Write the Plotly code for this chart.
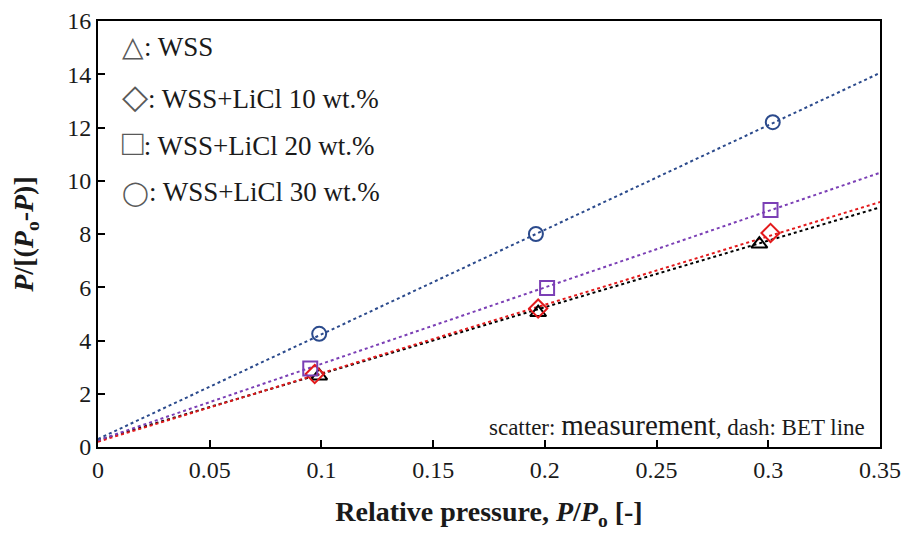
import plotly.graph_objects as go

# Measured data (relative pressure, P/[(Po-P)])
series_names = ["WSS", "WSS+LiCl 10 wt.%", "WSS+LiCl 20 wt.%", "WSS+LiCl 30 wt.%"]
x_wss = [0.099, 0.197, 0.296]
y_wss = [2.67, 5.05, 7.62]
x_10 = [0.097, 0.197, 0.301]
y_10 = [2.74, 5.2, 8.04]
x_20 = [0.095, 0.201, 0.301]
y_20 = [2.95, 5.97, 8.9]
x_30 = [0.099, 0.196, 0.302]
y_30 = [4.25, 8.0, 12.2]

# BET fit lines (end points)
line_x = [0.0, 0.35]
line_wss = [0.25, 9.0]
line_10 = [0.2, 9.2]
line_20 = [0.25, 10.3]
line_30 = [0.3, 14.05]

x_ticks = [0, 0.05, 0.1, 0.15, 0.2, 0.25, 0.3, 0.35]
x_tick_labels = ["0", "0.05", "0.1", "0.15", "0.2", "0.25", "0.3", "0.35"]
y_ticks = [0, 2, 4, 6, 8, 10, 12, 14, 16]

colors = ["#000000", "#E31A1C", "#7B3FB5", "#2B4A8C"]
symbols = ["triangle-up-open", "diamond-open", "square-open", "circle-open"]
xs = [x_wss, x_10, x_20, x_30]
ys = [y_wss, y_10, y_20, y_30]
lines = [line_wss, line_10, line_20, line_30]

FONT = "Liberation Serif"
TXT = "#1a1a1a"

fig = go.Figure()
for i in range(4):
    fig.add_trace(go.Scatter(x=line_x, y=lines[i], mode="lines",
                             line=dict(color=colors[i], width=2, dash="dot"),
                             showlegend=False, hoverinfo="skip"))
for i in range(4):
    fig.add_trace(go.Scatter(x=xs[i], y=ys[i], mode="markers", name=series_names[i],
                             marker=dict(symbol=symbols[i], size=14, color=colors[i],
                                         line=dict(width=2, color=colors[i])),
                             showlegend=False))

legend_syms = ["△", "◇", "□", "◯"]
legend_sym_sizes = [28, 34, 36, 24]
legend_y = [0.939, 0.822, 0.713, 0.599]
for s, ss, n, yy in zip(legend_syms, legend_sym_sizes, series_names, legend_y):
    fig.add_annotation(xref="paper", yref="paper", x=0.028, y=yy, xanchor="left", yanchor="middle",
                       text=f"<span style='color:#595959;font-size:{ss}px'>{s}</span>: {n}",
                       showarrow=False, font=dict(family=FONT, size=27, color=TXT))

fig.add_annotation(xref="paper", yref="paper", x=0.984, y=0.052, xanchor="right", yanchor="middle",
                   text="scatter: <span style='font-size:29px'>measurement</span>, dash: BET line",
                   showarrow=False, font=dict(family=FONT, size=23, color=TXT))

axis_common = dict(showline=True, linecolor="black", linewidth=2, mirror=True,
                   ticks="inside", ticklen=7, tickwidth=2, tickcolor="black",
                   showgrid=False, zeroline=False, automargin=False,
                   tickfont=dict(family=FONT, size=24, color=TXT))

fig.update_xaxes(range=[0, 0.35], tickvals=x_ticks, ticktext=x_tick_labels,
                 title=dict(text="<b>Relative pressure, <i>P</i>/<i>P</i><sub>o</sub> [-]</b>",
                            font=dict(family=FONT, size=28, color=TXT), standoff=34),
                 **axis_common)
fig.update_yaxes(range=[0, 16], tickvals=y_ticks,
                 title=dict(text="<b><i>P</i>/[(<i>P</i><sub>o</sub>-<i>P</i>)]</b>",
                            font=dict(family=FONT, size=28, color=TXT), standoff=30),
                 **axis_common)

fig.update_layout(width=895, height=523, margin=dict(l=90, r=23, t=13, b=84),
                  plot_bgcolor="white", paper_bgcolor="white", showlegend=False,
                  font=dict(family=FONT))

fig.write_html("out.html")
